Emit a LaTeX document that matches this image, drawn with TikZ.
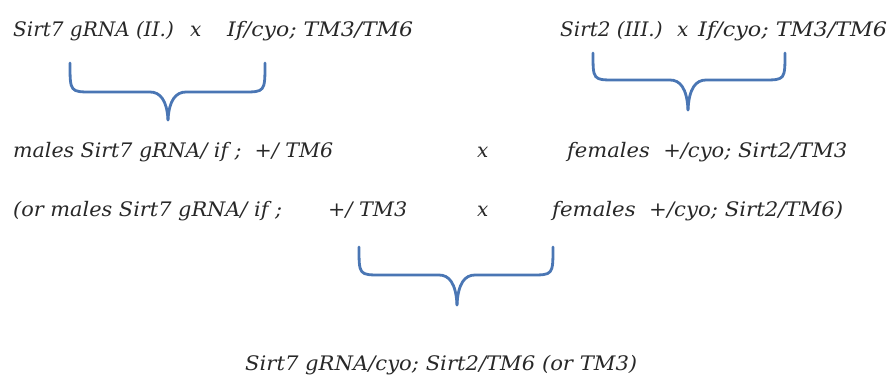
\documentclass[tikz,border=0pt]{standalone}
\usepackage{fontspec}
\usepackage{graphicx}
\setmainfont{DejaVu Serif}
\definecolor{bracecol}{RGB}{74,118,180}
\definecolor{txtcol}{RGB}{40,40,40}
\tikzset{
  lbl/.style={anchor=base west, inner sep=0pt, text=txtcol, font=\itshape\fontsize{20}{23}\selectfont},
  brc/.style={draw=bracecol, line width=2.8pt, line cap=round, line join=round}
}
% set a label to a given width, keeping its height
\newcommand{\fitw}[2]{\resizebox{#1pt}{\height}{#2}}
% curly brace opening upwards, tips at (#1,#3) and (#2,#3),
% horizontal bar at #4, point at (#5,#6)
\newcommand{\upbrace}[7]{%
  \draw[brc] (#1,#3) .. controls (#1,#4) and (#1,#4) .. ++(22,#4-#3)
    -- (#5-18,#4) .. controls (#5-8,#4) and (#5-1,#4+8) .. (#5,#6)
    coordinate (#7);
  \draw[brc] (#2,#3) .. controls (#2,#4) and (#2,#4) .. ++(-22,#4-#3)
    -- (#5+18,#4) .. controls (#5+8,#4) and (#5+1,#4+8) .. (#5,#6);
}
\begin{document}
\begin{tikzpicture}[x=1pt,y=-1pt]
\useasboundingbox (0,0) rectangle (895,376);
% parental crosses
\node[lbl] (p1a) at (13,36) {Sirt7 gRNA (II.)};
\node[lbl] (p1x) at (190,36) {x};
\node[lbl] (p1b) at (227,36) {\fitw{186}{If/cyo; TM3/TM6}};
\node[lbl] (p2a) at (560,36) {Sirt2 (III.)};
\node[lbl] (p2x) at (677,36) {x};
\node[lbl] (p2b) at (698,36) {\fitw{189}{If/cyo; TM3/TM6}};
% F1 crosses
\node[lbl] (m1) at (13,157) {\fitw{320}{males Sirt7 gRNA/ if ;\ \ +/ TM6}};
\node[lbl] (x1) at (477,157) {x};
\node[lbl] (f1) at (567,157) {\fitw{280}{females\ \ +/cyo; Sirt2/TM3}};
\node[lbl] (m2) at (13,216) {\fitw{269}{(or males Sirt7 gRNA/ if ;}};
\node[lbl] (m2b) at (328,216) {\fitw{79}{+/ TM3}};
\node[lbl] (x2) at (477,216) {x};
\node[lbl] (f2) at (552,216) {\fitw{291}{females\ \ +/cyo; Sirt2/TM6)}};
% resulting genotype
\node[lbl] (res) at (245,370) {\fitw{392}{Sirt7 gRNA/cyo; Sirt2/TM6 (or TM3)}};
% braces
\upbrace{70}{265}{63}{92}{168}{120}{b1}
\upbrace{593}{785}{53}{80}{688}{110}{b2}
\upbrace{359}{553}{247}{275}{457}{305}{b3}
\end{tikzpicture}
\end{document}
